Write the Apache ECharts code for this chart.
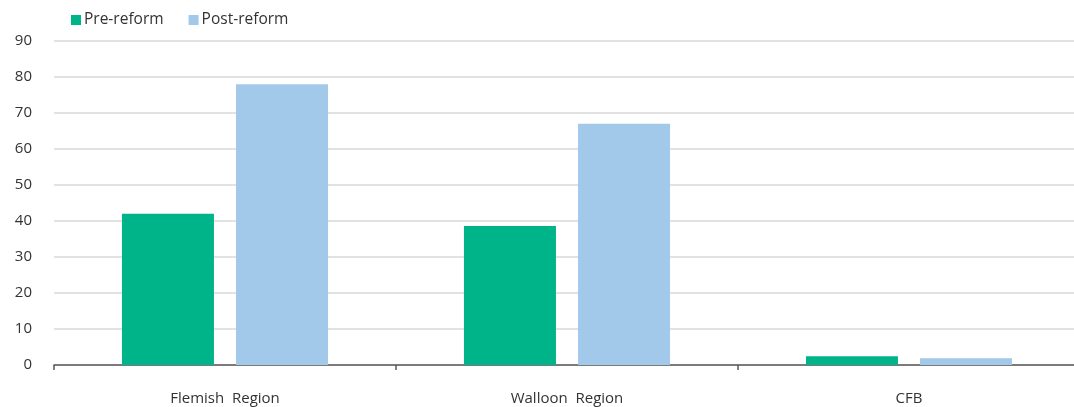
<!DOCTYPE html>
<html>
<head>
<meta charset="utf-8">
<script src="https://cdn.jsdelivr.net/npm/echarts@6/dist/echarts.min.js"></script>
<style>
html,body{margin:0;padding:0;background:#fff;}
#chart{width:1074px;height:407px;}
</style>
</head>
<body>
<div id="chart"></div>
<script>
var categories = ['Flemish  Region', 'Walloon  Region', 'CFB'];
var preReform = [42, 38.6, 2.4];
var postReform = [78, 67, 1.9];
var yTicks = [0, 10, 20, 30, 40, 50, 60, 70, 80, 90];

var chart = echarts.init(document.getElementById('chart'), null, {renderer: 'canvas'});
var font = '"Open Sans", "Noto Sans", sans-serif';
chart.setOption({
  animation: false,
  textStyle: {fontFamily: font},
  legend: {
    left: 66, top: 7,
    itemWidth: 10, itemHeight: 10, itemGap: 25,
    icon: 'rect',
    textStyle: {fontFamily: font, fontSize: 15.5, color: '#333', padding: [0, 0, 0, -2]},
    data: ['Pre-reform', 'Post-reform']
  },
  grid: {left: 54, right: -6, top: 41, bottom: 42, containLabel: false, outerBoundsMode: 'none'},
  xAxis: {
    type: 'category',
    data: categories,
    axisLine: {lineStyle: {color: '#595959', width: 1.5}},
    axisTick: {show: true, length: 5, lineStyle: {color: '#595959', width: 1.5}},
    axisLabel: {fontFamily: font, fontSize: 15, color: '#333', margin: 26}
  },
  yAxis: {
    type: 'value',
    min: yTicks[0], max: yTicks[yTicks.length - 1], interval: 10,
    axisLine: {show: false},
    axisTick: {show: false},
    axisLabel: {fontFamily: font, fontSize: 15, color: '#333', margin: 22},
    splitLine: {lineStyle: {color: '#d9d9d9', width: 1.5}}
  },
  series: [
    {name: 'Pre-reform', type: 'bar', data: preReform, barWidth: 92, barGap: '24%',
     itemStyle: {color: '#00b48a'}},
    {name: 'Post-reform', type: 'bar', data: postReform, barWidth: 92,
     itemStyle: {color: '#a2c8ea'}}
  ]
});
</script>
</body>
</html>
